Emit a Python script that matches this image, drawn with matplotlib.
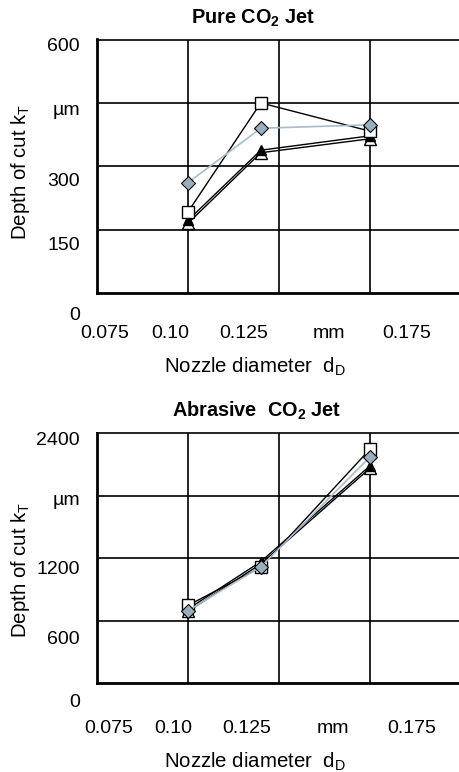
import matplotlib
matplotlib.use('Agg')
import matplotlib.pyplot as plt

plt.rcParams['font.family'] = ['Liberation Sans', 'DejaVu Sans']
plt.rcParams['mathtext.fontset'] = 'custom'
plt.rcParams['mathtext.rm'] = 'Liberation Sans'
plt.rcParams['mathtext.bf'] = 'Liberation Sans:bold'
plt.rcParams['mathtext.default'] = 'regular'

# nozzle diameter (mm)
nozzle = [0.10, 0.12, 0.15]

# Pure CO2 jet, depth of cut (um)
pure_square = [192, 450, 383]
pure_diamond = [261, 390, 398]
pure_tri_black = [172, 338, 372]
pure_tri_white = [165, 332, 365]

# Abrasive CO2 jet, depth of cut (um)
abr_square = [745, 1110, 2245]
abr_diamond = [695, 1115, 2170]
abr_tri_black = [710, 1165, 2085]
abr_tri_white = [688, 1143, 2062]

x_ticklabels = ['0.075', '0.10', '0.125', 'mm', '0.175']
pure_ylabels = ['600', 'µm', '300', '150', '0']
abr_ylabels = ['2400', 'µm', '1200', '600', '0']

W, H = 459, 772
fig = plt.figure(figsize=(W / 100, H / 100), dpi=100)

grey_fill = '#9aafbd'
grey_line = '#a9bccb'


def panel(top_px, bot_px, ymax, sq, dia, tb, tw, ylabels, ylab_frac, xlab_frac_x, xlab_frac_y):
    left, right = 97, 461
    ax = fig.add_axes([left / W, 1 - bot_px / H, (right - left) / W, (bot_px - top_px) / H])
    ax.set_xlim(0.075, 0.175)
    ax.set_ylim(0, ymax)
    ax.set_xticks([0.10, 0.125, 0.15])
    ax.set_yticks([ymax / 4, ymax / 2, ymax * 3 / 4])
    ax.grid(True, color='black', linewidth=1.2)
    ax.tick_params(length=0, labelbottom=False, labelleft=False)
    ax.spines['right'].set_visible(False)
    ax.spines['top'].set_linewidth(1.2)
    ax.spines['left'].set_linewidth(2.0)
    ax.spines['bottom'].set_linewidth(2.0)
    ax.set_axisbelow(True)

    ax.plot(nozzle, tw, '-', color='black', lw=1.0, marker='^', ms=8,
            mfc='white', mec='black', mew=1.0, zorder=3)
    ax.plot(nozzle, tb, '-', color='black', lw=1.0, marker='^', ms=7.5,
            mfc='black', mec='black', mew=1.0, zorder=4)
    ax.plot(nozzle, sq, '-', color='black', lw=1.0, marker='s', ms=8,
            mfc='white', mec='black', mew=1.0, zorder=5)
    ax.plot(nozzle, dia, '-', color=grey_line, lw=1.2, marker='D', ms=7,
            mfc=grey_fill, mec='black', mew=0.8, zorder=6)

    for lab, fy in zip(ylabels, ylab_frac):
        ax.text(-0.047, fy, lab, transform=ax.transAxes, ha='right', va='center',
                fontsize=14)
    for lab, fx in zip(x_ticklabels, xlab_frac_x):
        ax.text(fx, xlab_frac_y, lab, transform=ax.transAxes, ha='center', va='center',
                fontsize=14)
    return ax


panel(39.5, 293, 600, pure_square, pure_diamond, pure_tri_black, pure_tri_white,
      pure_ylabels, [0.972, 0.72, 0.439, 0.189, -0.087],
      [0.022, 0.2005, 0.404, 0.637, 0.852], -0.158)
panel(433, 683, 2400, abr_square, abr_diamond, abr_tri_black, abr_tri_white,
      abr_ylabels, [0.972, 0.732, 0.452, 0.176, -0.079],
      [0.031, 0.210, 0.411, 0.649, 0.864], -0.181)

fig.text(253 / W, 1 - 18 / H, r'Pure CO$_\mathbf{2}$ Jet', ha='center', va='center',
         fontsize=14.3, fontweight='bold')
fig.text(257 / W, 1 - 411 / H, r'Abrasive  CO$_\mathbf{2}$ Jet', ha='center', va='center',
         fontsize=14.3, fontweight='bold')

for yc in (172, 570):
    fig.text(21 / W, 1 - yc / H, r'Depth of cut k$_{T}$', rotation=90, ha='center',
             va='center', fontsize=14.7)
for yc in (367, 762):
    fig.text(255 / W, 1 - yc / H, r'Nozzle diameter  d$_{D}$', ha='center',
             va='center', fontsize=14.7)

fig.savefig('out.png', dpi=100)
